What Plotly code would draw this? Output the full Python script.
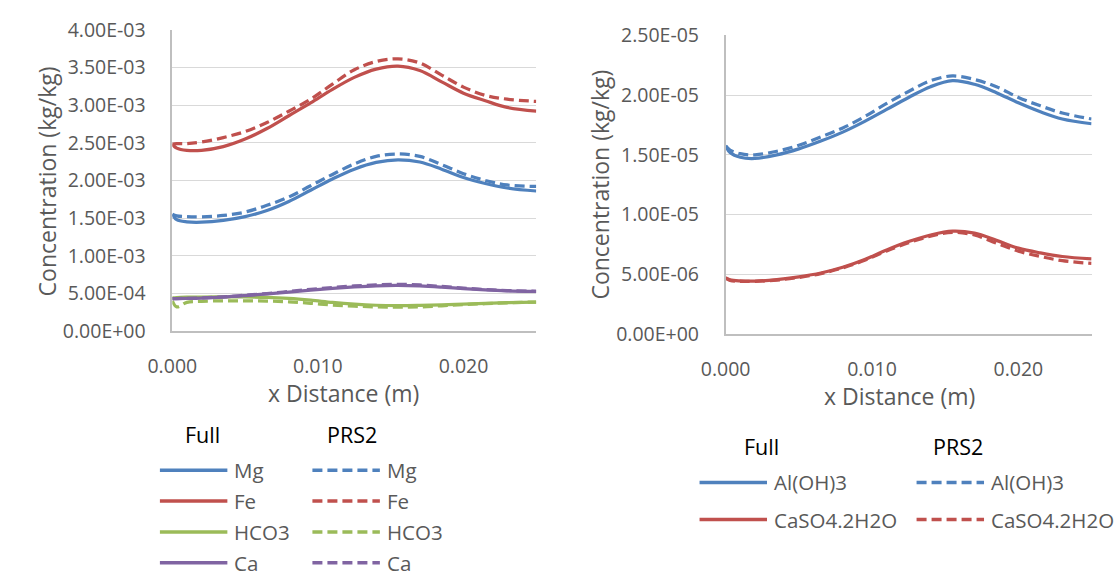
import plotly.graph_objects as go

# ---------------- data ----------------
x_dist = [0, 0.0003, 0.001, 0.002, 0.0035, 0.005, 0.0065, 0.008, 0.0095, 0.011,
          0.0125, 0.014, 0.0155, 0.017, 0.0185, 0.02, 0.0215, 0.023, 0.025]

# left chart (kg/kg)
mg_full = [1.55e-3, 1.48e-3, 1.45e-3, 1.445e-3, 1.47e-3, 1.52e-3, 1.60e-3, 1.72e-3, 1.87e-3, 2.02e-3,
           2.15e-3, 2.24e-3, 2.275e-3, 2.245e-3, 2.15e-3, 2.04e-3, 1.96e-3, 1.90e-3, 1.86e-3]
mg_prs2 = [1.55e-3, 1.53e-3, 1.518e-3, 1.516e-3, 1.535e-3, 1.58e-3, 1.67e-3, 1.78e-3, 1.93e-3, 2.08e-3,
           2.22e-3, 2.32e-3, 2.352e-3, 2.32e-3, 2.21e-3, 2.09e-3, 2.00e-3, 1.94e-3, 1.92e-3]
fe_full = [2.48e-3, 2.43e-3, 2.40e-3, 2.40e-3, 2.45e-3, 2.55e-3, 2.69e-3, 2.86e-3, 3.03e-3, 3.21e-3,
           3.37e-3, 3.48e-3, 3.52e-3, 3.46e-3, 3.31e-3, 3.16e-3, 3.06e-3, 2.97e-3, 2.92e-3]
fe_prs2 = [2.48e-3, 2.49e-3, 2.49e-3, 2.51e-3, 2.57e-3, 2.65e-3, 2.77e-3, 2.92e-3, 3.08e-3, 3.28e-3,
           3.47e-3, 3.58e-3, 3.615e-3, 3.56e-3, 3.40e-3, 3.24e-3, 3.13e-3, 3.08e-3, 3.05e-3]
hco3_full = [0.44e-3, 0.445e-3, 0.449e-3, 0.451e-3, 0.452e-3, 0.452e-3, 0.447e-3, 0.433e-3, 0.41e-3, 0.38e-3,
             0.357e-3, 0.342e-3, 0.337e-3, 0.34e-3, 0.346e-3, 0.356e-3, 0.366e-3, 0.376e-3, 0.385e-3]
hco3_prs2 = [0.40e-3, 0.32e-3, 0.38e-3, 0.395e-3, 0.40e-3, 0.40e-3, 0.397e-3, 0.388e-3, 0.368e-3, 0.345e-3,
             0.33e-3, 0.32e-3, 0.317e-3, 0.32e-3, 0.335e-3, 0.35e-3, 0.363e-3, 0.374e-3, 0.385e-3]
ca_full = [0.43e-3, 0.43e-3, 0.432e-3, 0.437e-3, 0.45e-3, 0.47e-3, 0.493e-3, 0.517e-3, 0.543e-3, 0.565e-3,
           0.585e-3, 0.60e-3, 0.605e-3, 0.598e-3, 0.582e-3, 0.562e-3, 0.545e-3, 0.533e-3, 0.525e-3]
ca_prs2 = [0.43e-3, 0.43e-3, 0.434e-3, 0.44e-3, 0.453e-3, 0.475e-3, 0.498e-3, 0.525e-3, 0.553e-3, 0.578e-3,
           0.598e-3, 0.613e-3, 0.62e-3, 0.612e-3, 0.592e-3, 0.57e-3, 0.55e-3, 0.537e-3, 0.528e-3]

# right chart (kg/kg)
aloh3_full = [1.575e-5, 1.52e-5, 1.48e-5, 1.47e-5, 1.50e-5, 1.55e-5, 1.615e-5, 1.69e-5, 1.78e-5, 1.88e-5,
              1.98e-5, 2.07e-5, 2.12e-5, 2.09e-5, 2.02e-5, 1.935e-5, 1.86e-5, 1.80e-5, 1.76e-5]
aloh3_prs2 = [1.575e-5, 1.54e-5, 1.51e-5, 1.50e-5, 1.53e-5, 1.58e-5, 1.65e-5, 1.725e-5, 1.82e-5, 1.93e-5,
              2.03e-5, 2.12e-5, 2.16e-5, 2.13e-5, 2.07e-5, 1.98e-5, 1.91e-5, 1.85e-5, 1.80e-5]
gyp_full = [4.71e-6, 4.55e-6, 4.46e-6, 4.44e-6, 4.57e-6, 4.80e-6, 5.12e-6, 5.6e-6, 6.25e-6, 7.05e-6,
            7.75e-6, 8.3e-6, 8.62e-6, 8.45e-6, 7.85e-6, 7.2e-6, 6.8e-6, 6.5e-6, 6.3e-6]
gyp_prs2 = [4.71e-6, 4.50e-6, 4.43e-6, 4.42e-6, 4.53e-6, 4.75e-6, 5.07e-6, 5.55e-6, 6.18e-6, 6.97e-6,
            7.65e-6, 8.2e-6, 8.52e-6, 8.3e-6, 7.62e-6, 6.95e-6, 6.5e-6, 6.15e-6, 5.92e-6]

left_names = ["Mg", "Fe", "HCO3", "Ca"]
left_full = [mg_full, fe_full, hco3_full, ca_full]
left_prs2 = [mg_prs2, fe_prs2, hco3_prs2, ca_prs2]
right_names = ["Al(OH)3", "CaSO4.2H2O"]
right_full = [aloh3_full, gyp_full]
right_prs2 = [aloh3_prs2, gyp_prs2]

left_tickvals = [0, 5e-4, 1e-3, 1.5e-3, 2e-3, 2.5e-3, 3e-3, 3.5e-3, 4e-3]
left_ticktext = ["0.00E+00", "5.00E-04", "1.00E-03", "1.50E-03", "2.00E-03",
                 "2.50E-03", "3.00E-03", "3.50E-03", "4.00E-03"]
right_tickvals = [0, 5e-6, 1e-5, 1.5e-5, 2e-5, 2.5e-5]
right_ticktext = ["0.00E+00", "5.00E-06", "1.00E-05", "1.50E-05", "2.00E-05", "2.50E-05"]
x_tickvals = [0, 0.01, 0.02]
x_ticktext = ["0.000", "0.010", "0.020"]

group_titles = ["Full", "PRS2"]

# ---------------- styles ----------------
W, H = 1116, 586
FONT = "Open Sans"
GRAY = "#595959"
left_colors = ["#4F81BD", "#C0504D", "#9BBB59", "#8064A2"]
right_colors = ["#4F81BD", "#C0504D"]
DASH = "10px,5px"
LW = 3.25
SMOOTH = 1.0


def px_x(p):
    return p / W


def px_y(p):
    return 1 - p / H


fig = go.Figure()

for name, full, prs, col in zip(left_names, left_full, left_prs2, left_colors):
    fig.add_trace(go.Scatter(x=x_dist, y=full, mode="lines", name=name, showlegend=False,
                             line=dict(color=col, width=LW, shape="spline", smoothing=SMOOTH),
                             xaxis="x", yaxis="y"))
    fig.add_trace(go.Scatter(x=x_dist, y=prs, mode="lines", name=name, showlegend=False,
                             line=dict(color=col, width=LW, dash=DASH, shape="spline", smoothing=SMOOTH),
                             xaxis="x", yaxis="y"))

for name, full, prs, col in zip(right_names, right_full, right_prs2, right_colors):
    fig.add_trace(go.Scatter(x=x_dist, y=full, mode="lines", name=name, showlegend=False,
                             line=dict(color=col, width=LW, shape="spline", smoothing=SMOOTH),
                             xaxis="x2", yaxis="y2"))
    fig.add_trace(go.Scatter(x=x_dist, y=prs, mode="lines", name=name, showlegend=False,
                             line=dict(color=col, width=LW, dash=DASH, shape="spline", smoothing=SMOOTH),
                             xaxis="x2", yaxis="y2"))

tickfont = dict(family=FONT, size=19.5, color=GRAY)
common_x = dict(range=[0, 0.025], tickvals=x_tickvals, ticktext=x_ticktext, showgrid=False,
                showline=True, linecolor="#BFBFBF", linewidth=1.5, ticks="", zeroline=False,
                tickfont=tickfont, ticklabelstandoff=17, fixedrange=True)
common_y = dict(showgrid=True, gridcolor="#D9D9D9", gridwidth=1.25, showline=True,
                linecolor="#BFBFBF", linewidth=1.5, ticks="", zeroline=False,
                tickfont=tickfont, ticklabelstandoff=21, fixedrange=True)

fig.update_layout(
    width=W, height=H,
    margin=dict(l=0, r=0, t=0, b=0),
    paper_bgcolor="white", plot_bgcolor="white",
    showlegend=False,
    xaxis=dict(domain=[px_x(150.7), px_x(523)], anchor="y", **common_x),
    yaxis=dict(domain=[px_y(332.3), px_y(16.7)], anchor="x", range=[0, 4e-3],
               tickvals=left_tickvals, ticktext=left_ticktext, **common_y),
    xaxis2=dict(domain=[px_x(716.7), px_x(1091)], anchor="y2", **common_x),
    yaxis2=dict(domain=[px_y(335.7), px_y(22.3)], anchor="x2", range=[0, 2.5e-5],
                tickvals=right_tickvals, ticktext=right_ticktext, **common_y),
)

annotations = []
shapes = []
title_font = dict(family=FONT, size=23, color=GRAY)

# axis titles
for (tx, ty) in [(326, 397), (895, 400)]:
    annotations.append(dict(text="x Distance (m)", x=px_x(tx), y=px_y(ty), xref="paper", yref="paper",
                            xanchor="center", yanchor="middle", showarrow=False, font=title_font))
for (tx, ty) in [(22, 176), (588, 179)]:
    annotations.append(dict(text="Concentration (kg/kg)", x=px_x(tx), y=px_y(ty), xref="paper", yref="paper",
                            xanchor="center", yanchor="middle", showarrow=False, textangle=-90,
                            font=title_font))

# custom two-column legends
header_font = dict(family=FONT, size=21.5, color="#000000")
item_font = dict(family=FONT, size=20.5, color=GRAY)


def build_legend(names, colors, header_y, header_x, row_y0, row_dy, solid_x, dashed_x, text_dx):
    for title, hx in zip(group_titles, header_x):
        annotations.append(dict(text=title, x=px_x(hx), y=px_y(header_y), xref="paper", yref="paper",
                                xanchor="center", yanchor="middle", showarrow=False, font=header_font))
    for i, (nm, col) in enumerate(zip(names, colors)):
        ry = row_y0 + i * row_dy
        for (x0, x1), dash in zip([solid_x, dashed_x], ["solid", DASH]):
            shapes.append(dict(type="line", xref="paper", yref="paper",
                               x0=px_x(x0), x1=px_x(x1), y0=px_y(ry), y1=px_y(ry),
                               line=dict(color=col, width=3.5, dash=dash)))
            annotations.append(dict(text=nm, x=px_x(x1 + text_dx), y=px_y(ry), xref="paper", yref="paper",
                                    xanchor="left", yanchor="middle", showarrow=False, font=item_font))


build_legend(left_names, left_colors, 441, [181.5, 334], 478.3, 32.3, (138, 207), (294, 363), 5)
build_legend(right_names, right_colors, 453, [753, 954], 491, 39, (690, 759), (912, 981), 5)

fig.update_layout(annotations=annotations, shapes=shapes)

fig.write_html("out.html")
